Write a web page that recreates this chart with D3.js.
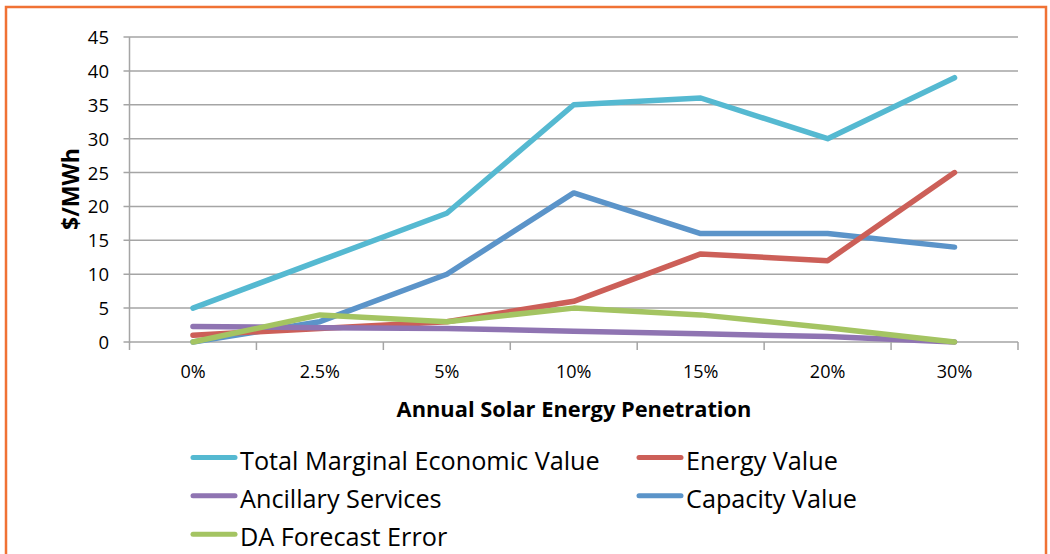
<!DOCTYPE html>
<html><head><meta charset="utf-8">
<script src="https://cdn.jsdelivr.net/npm/d3@7"></script>
<style>body{margin:0;background:#fff}svg{display:block}</style>
</head><body><svg id="c" width="1050" height="554"></svg>
<script>
const categories = ["0%","2.5%","5%","10%","15%","20%","30%"];
const totalValue = [5,12,19,35,36,30,39];
const energyValue = [1,2,3,6,13,12,25];
const ancillary = [2.3,2.1,2.0,1.6,1.2,0.8,0];
const capacityValue = [0,3,10,22,16,16,14];
const daForecast = [0,4,3,5,4,2.1,0];
const seriesNames = ["Total Marginal Economic Value","Energy Value","Ancillary Services","Capacity Value","DA Forecast Error"];
const yTicks = [0,5,10,15,20,25,30,35,40,45];

const colors = ["#55B9D1","#CC5F58","#8F74B2","#5B94C9","#A4C462"];
const seriesData = [totalValue, energyValue, ancillary, capacityValue, daForecast];
const drawOrder = [3,1,2,4,0];

const svg = d3.select("#c");
const font = "'Open Sans', 'Noto Sans', sans-serif";
function fit(sel, target){
  const w = sel.node().getComputedTextLength();
  const fs = parseFloat(sel.attr("font-size"));
  if (w>0) sel.attr("font-size", fs*target/w);
  return sel;
}
// border
svg.append("rect").attr("x",6).attr("y",7).attr("width",1040).attr("height",560)
  .attr("fill","none").attr("stroke","#F07234").attr("stroke-width",2.5);

const L=129.5, R=1018, T=37, B=342;
const x = d3.scaleBand().domain(categories).range([L,R]);
const y = d3.scaleLinear().domain([0,45]).range([B,T]);

// grid
svg.append("g").selectAll("line").data(yTicks).join("line")
  .attr("x1",L-6).attr("x2",R).attr("y1",d=>y(d)).attr("y2",d=>y(d))
  .attr("stroke","#A5A5A5").attr("stroke-width",1.5);
// y axis line
svg.append("line").attr("x1",L).attr("x2",L).attr("y1",T).attr("y2",B+1)
  .attr("stroke","#A5A5A5").attr("stroke-width",1.5);
// x tick marks
const bounds = categories.map(c=>x(c)).concat([R]);
svg.append("g").selectAll("line").data(bounds).join("line")
  .attr("x1",d=>d).attr("x2",d=>d).attr("y1",B).attr("y2",B+8)
  .attr("stroke","#A5A5A5").attr("stroke-width",1.5);
// y labels
svg.append("g").selectAll("text").data(yTicks).join("text")
  .attr("x",109).attr("y",d=>y(d)+7).attr("text-anchor","end")
  .attr("font-family",font).attr("font-size",18.5).attr("fill","#000").text(d=>d);
// x labels
svg.append("g").selectAll("text").data(categories).join("text")
  .attr("x",d=>x(d)+x.bandwidth()/2).attr("y",378).attr("text-anchor","middle")
  .attr("font-family",font).attr("font-size",18).attr("fill","#000").text(d=>d);
// titles
const xt = svg.append("text").attr("x",574).attr("y",417).attr("text-anchor","middle")
  .attr("font-family",font).attr("font-weight","bold").attr("font-size",20).text("Annual Solar Energy Penetration");
fit(xt, 355);
const yt = svg.append("text").attr("transform","translate(79,189) rotate(-90)").attr("text-anchor","middle")
  .attr("font-family",font).attr("font-weight","bold").attr("font-size",20).text("$/MWh");
fit(yt, 82);

// lines
const line = d3.line().x((d,i)=>x(categories[i])+x.bandwidth()/2).y(d=>y(d));
drawOrder.forEach(k=>{
  svg.append("path").attr("d",line(seriesData[k])).attr("fill","none")
    .attr("stroke",colors[k]).attr("stroke-width",5.5)
    .attr("stroke-linejoin","round").attr("stroke-linecap","round");
});

// legend
const legPos = [[191,457.5],[637,457.5],[191,495.7],[637,495.7],[191,534.3]];
let legFs = 22;
seriesNames.forEach((n,i)=>{
  const [lx,ly]=legPos[i];
  svg.append("line").attr("x1",lx+2).attr("x2",lx+44).attr("y1",ly).attr("y2",ly)
    .attr("stroke",colors[i]).attr("stroke-width",5).attr("stroke-linecap","round");
  const t = svg.append("text").attr("class","leg").attr("x",lx+49).attr("y",ly+12)
    .attr("font-family",font).attr("font-size",legFs).attr("fill","#000").text(n);
  if (i===0){ fit(t,360); legFs = parseFloat(t.attr("font-size")); }
});
</script></body></html>
